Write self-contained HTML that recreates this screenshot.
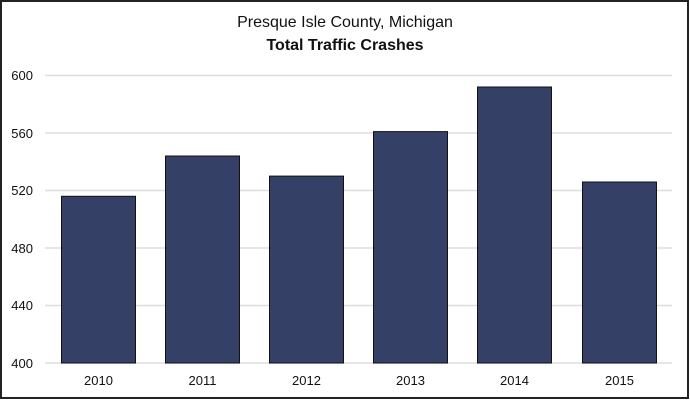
<!DOCTYPE html>
<html><head><style>
body{margin:0;background:#fff}
</style></head><body>
<svg width="690" height="400" xmlns="http://www.w3.org/2000/svg" style="display:block">
<rect x="1" y="1" width="687" height="397" fill="#fff" stroke="#222" stroke-width="2"/>
<text x="345" y="27" text-anchor="middle" font-family="Liberation Sans, sans-serif" font-size="16" fill="#111">Presque Isle County, Michigan</text>
<text x="345" y="50" text-anchor="middle" font-family="Liberation Sans, sans-serif" font-size="16" font-weight="bold" fill="#111">Total Traffic Crashes</text>
<g stroke="#ddd" stroke-width="1.5">
<line x1="45" x2="672" y1="75.5" y2="75.5"/>
<line x1="45" x2="672" y1="133" y2="133"/>
<line x1="45" x2="672" y1="190.5" y2="190.5"/>
<line x1="45" x2="672" y1="248" y2="248"/>
<line x1="45" x2="672" y1="305.5" y2="305.5"/>
<line x1="45" x2="672" y1="363" y2="363"/>
</g>
<g font-family="Liberation Sans, sans-serif" font-size="13" fill="#111" text-anchor="end">
<text x="33" y="80">600</text>
<text x="33" y="138">560</text>
<text x="33" y="195">520</text>
<text x="33" y="253">480</text>
<text x="33" y="310">440</text>
<text x="33" y="368">400</text>
</g>
<g fill="#344066" stroke="#111" stroke-width="1">
<rect x="61.5" y="196.3" width="74" height="166.7"/>
<rect x="165.5" y="156" width="74" height="207"/>
<rect x="269.5" y="176.1" width="74" height="186.9"/>
<rect x="373.5" y="131.6" width="74" height="231.4"/>
<rect x="477.5" y="87" width="74" height="276"/>
<rect x="582.5" y="182" width="74" height="181"/>
</g>
<g font-family="Liberation Sans, sans-serif" font-size="13" fill="#111" text-anchor="middle">
<text x="98.5" y="385">2010</text>
<text x="202.5" y="385">2011</text>
<text x="306.5" y="385">2012</text>
<text x="410.5" y="385">2013</text>
<text x="514.5" y="385">2014</text>
<text x="619.5" y="385">2015</text>
</g>
</svg>
</body></html>
